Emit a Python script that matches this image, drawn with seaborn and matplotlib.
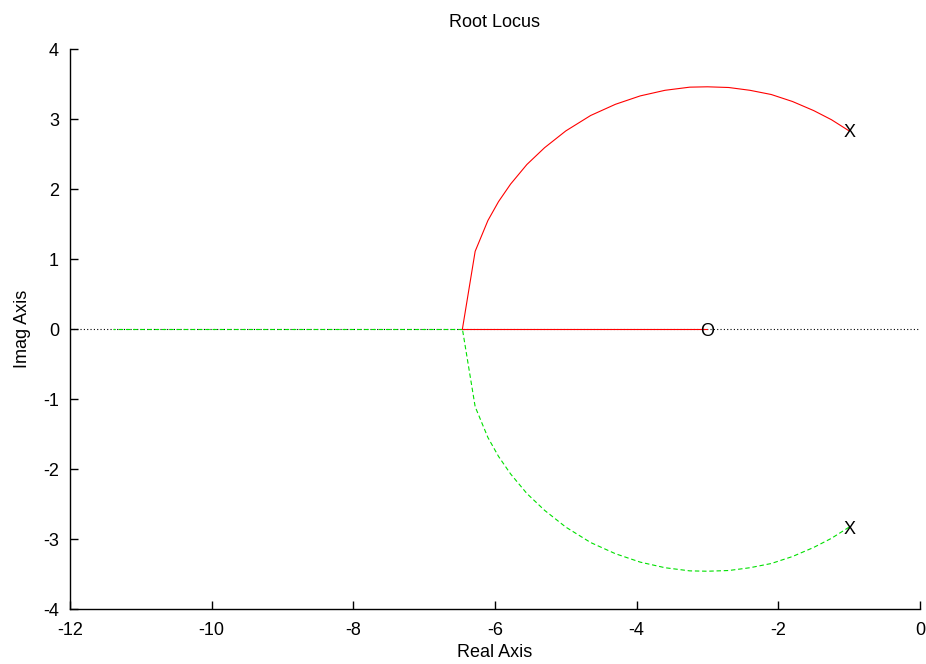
import matplotlib
matplotlib.use("Agg")
import matplotlib.pyplot as plt
import numpy as np
import pandas as pd
import seaborn as sns

# Open-loop poles and zero
pole_re = [-1.0, -1.0]
pole_im = [2.83, -2.83]
zero_re = [-3.0]
zero_im = [0.0]

# Upper complex branch (pole -> breakaway); the lower branch is its conjugate
branch_re = [-1.00, -1.25, -1.50, -1.80, -2.10, -2.40, -2.70, -3.00, -3.25, -3.60,
             -3.95, -4.30, -4.65, -5.00, -5.30, -5.55, -5.78, -5.95, -6.10, -6.28, -6.46]
branch_im = [2.83, 2.99, 3.12, 3.25, 3.35, 3.41, 3.45, 3.46, 3.455, 3.41,
             3.33, 3.21, 3.05, 2.83, 2.59, 2.35, 2.07, 1.82, 1.55, 1.11, 0.0]

# Real-axis segments after breakaway
red_axis_re = [-6.46, -3.0]
green_axis_re = [-6.46, -11.4]

sns.set_theme(style="ticks")
plt.rcParams["font.family"] = ["Liberation Sans", "DejaVu Sans"]
plt.rcParams["axes.unicode_minus"] = False
plt.rcParams["text.color"] = "black"
plt.rcParams["axes.labelcolor"] = "black"

fig = plt.figure(figsize=(9.26, 6.64), dpi=100)
ax = fig.add_axes([0.0756, 0.0828, 0.9179, 0.8434])

# Zero reference line along the real axis
ax.plot([-12, 0], [0, 0], color="black", linestyle=(0, (1, 2)), linewidth=0.8, zorder=1)

red_df = pd.DataFrame({
    "re": branch_re + red_axis_re,
    "im": branch_im + [0.0] * len(red_axis_re),
    "seg": ["a"] * len(branch_re) + ["b"] * len(red_axis_re),
})
green_df = pd.DataFrame({
    "re": branch_re + green_axis_re,
    "im": [-v for v in branch_im] + [0.0] * len(green_axis_re),
    "seg": ["a"] * len(branch_re) + ["b"] * len(green_axis_re),
})

for seg, d in red_df.groupby("seg"):
    sns.lineplot(data=d, x="re", y="im", sort=False, estimator=None,
                 color="#ff0000", linewidth=0.8, ax=ax, zorder=3)
for seg, d in green_df.groupby("seg"):
    sns.lineplot(data=d, x="re", y="im", sort=False, estimator=None,
                 color="#00e000", linewidth=0.8, linestyle=(0, (4, 2.5)), ax=ax, zorder=2)

for x, y in zip(pole_re, pole_im):
    ax.text(x, y, "X", ha="center", va="center_baseline", fontsize=13, color="black", zorder=4)
for x, y in zip(zero_re, zero_im):
    ax.text(x, y, "O", ha="center", va="center_baseline", fontsize=13, color="black", zorder=4)

ax.set_xlim(-12, 0)
ax.set_ylim(-4, 4)
ax.set_xticks(np.arange(-12, 1, 2))
ax.set_yticks(np.arange(-4, 5, 1))
ax.tick_params(direction="in", length=6, width=1, labelsize=13, colors="black")
ax.tick_params(axis="x", pad=9)
ax.tick_params(axis="y", pad=8)
for side in ["top", "right"]:
    ax.spines[side].set_visible(False)
for side in ["left", "bottom"]:
    ax.spines[side].set_linewidth(1)
    ax.spines[side].set_color("black")

ax.set_title("Root Locus", fontsize=13, pad=16, color="black")
ax.set_xlabel("Real Axis", fontsize=13, labelpad=4, color="black")
ax.set_ylabel("Imag Axis", fontsize=13, labelpad=9, color="black")

fig.savefig("out.png", dpi=100)
